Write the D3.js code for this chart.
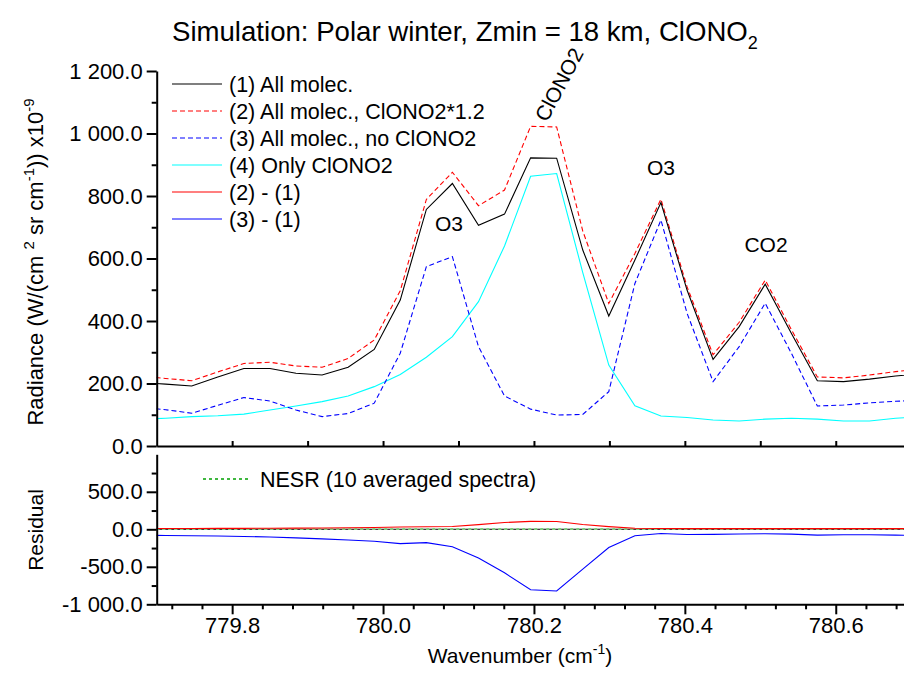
<!DOCTYPE html>
<html>
<head>
<meta charset="utf-8">
<style>
  body { margin: 0; background: #fff; }
  svg { display: block; font-family: "Liberation Sans", Arial, sans-serif; }
  .axis path, .axis line { stroke: #000; stroke-width: 2; }
  .axis text { font-size: 22px; fill: #000; font-family: "Liberation Sans", Arial, sans-serif; }
  .curve { fill: none; stroke-width: 1.1; }
</style>
</head>
<body>
<svg id="chart" width="904" height="694"></svg>
<script src="https://d3js.org/d3.v7.min.js"></script>
<script>
// wavenumber grid (cm-1), one point per spectral sample
var wavenumber = [779.6774, 779.7119, 779.7464, 779.7810, 779.8155, 779.8501, 779.8846, 779.9192, 779.9537, 779.9883,
                  780.0228, 780.0574, 780.0919, 780.1265, 780.1610, 780.1956, 780.2301, 780.2647, 780.2992, 780.3338,
                  780.3683, 780.4029, 780.4374, 780.4720, 780.5065, 780.5411, 780.5756, 780.6102, 780.6447, 780.6793,
                  780.7138];

// radiance x1e-9
var allMolec   = [203, 198, 192, 221, 248, 248, 233, 227, 252, 309, 467, 757, 840, 706, 742, 922, 921, 627, 416, 595,
                  779, 499, 277, 382, 518, 361, 209, 206, 214, 224, 232];
var clonoX12   = [224, 216, 209, 237, 264, 268, 256, 252, 280, 339, 497, 789, 876, 769, 819, 1023, 1021, 688, 456, 616,
                  790, 510, 292, 396, 531, 373, 221, 218, 227, 238, 247];
var noClono    = [125, 116, 105, 130, 155, 144, 115, 94, 104, 137, 297, 574, 606, 318, 160, 118, 99, 101, 174, 520,
                  723, 425, 206, 318, 457, 297, 128, 131, 138, 143, 147];
var onlyClono  = [85, 89, 94, 97, 102, 115, 128, 142, 160, 190, 229, 284, 350, 462, 640, 863, 872, 555, 259, 129,
                  96, 91, 83, 80, 86, 89, 86, 80, 80, 89, 93];

// residuals
var resid21    = [10, 10, 11, 12, 13, 14, 16, 18, 21, 25, 30, 34, 38, 62, 90, 105, 104, 65, 36, 14,
                  10, 9, 9, 9, 9, 9, 9, 9, 9, 9, 9];
var resid31    = [-78, -82, -86, -90, -95, -103, -114, -128, -143, -160, -191, -178, -232, -383, -580, -806, -822, -530, -243, -87,
                  -57, -70, -68, -62, -60, -64, -78, -72, -72, -78, -82];
var nesrWave   = [779.6, 780.8];
var nesrVal    = [4, 4];

// ticks
var radTicks      = [0, 200, 400, 600, 800, 1000, 1200];
var radMinor      = [100, 300, 500, 700, 900, 1100];
var residTicks    = [-1000, -500, 0, 500];
var residMinor    = [-750, -250, 250, 750];
var waveTicks     = [779.8, 780.0, 780.2, 780.4, 780.6];
var waveMinor     = [779.72, 779.76, 779.84, 779.88, 779.92, 779.96, 780.04, 780.08, 780.12, 780.16,
                     780.24, 780.28, 780.32, 780.36, 780.44, 780.48, 780.52, 780.56, 780.64, 780.68];
var waveTopTicks  = [779.8, 779.9, 780.0, 780.1, 780.2, 780.3, 780.4, 780.5, 780.6, 780.7];

var svg = d3.select("#chart");
svg.append("rect").attr("width", 904).attr("height", 694).attr("fill", "#fff");

var x = d3.scaleLinear().domain([779.7, 780.7]).range([156.7, 911.2]);
var yTop = d3.scaleLinear().domain([0, 1200]).range([446, 71]);
var yBot = d3.scaleLinear().domain([-1000, 1000]).range([604.3, 454.3]);

// "1 200.0" style, plain hyphen for negatives
var fmt = function(d) { return d3.format(",.1f")(d).replace(/,/g, " ").replace("\u2212", "-"); };

// clip regions
var defs = svg.append("defs");
defs.append("clipPath").attr("id", "clipTop").append("rect")
    .attr("x", x(779.7)).attr("y", yTop(1200)).attr("width", 760).attr("height", yTop(0) - yTop(1200));
defs.append("clipPath").attr("id", "clipBot").append("rect")
    .attr("x", x(779.7)).attr("y", yBot(1000)).attr("width", 760).attr("height", yBot(-1000) - yBot(1000));

function lineOf(yScale, vals, xs) {
  xs = xs || wavenumber;
  return d3.line().x(function(d, i) { return x(xs[i]); }).y(function(d) { return yScale(d); })(vals);
}

// upper panel curves
var topG = svg.append("g").attr("clip-path", "url(#clipTop)");
var series = [
  {vals: onlyClono, color: "#00ffff", dash: null},
  {vals: noClono, color: "#0000ff", dash: "5,3"},
  {vals: clonoX12, color: "#ff0000", dash: "5,3"},
  {vals: allMolec, color: "#000000", dash: null}
];
series.forEach(function(s) {
  topG.append("path").attr("class", "curve")
    .attr("d", lineOf(yTop, s.vals))
    .attr("stroke", s.color)
    .attr("stroke-dasharray", s.dash);
});

// lower panel curves
var botG = svg.append("g").attr("clip-path", "url(#clipBot)");
botG.append("path").attr("class", "curve").attr("d", lineOf(yBot, [0, 0], nesrWave))
  .attr("stroke", "#000").attr("stroke-dasharray", "3,3");
botG.append("path").attr("class", "curve").attr("d", lineOf(yBot, nesrVal, nesrWave))
  .attr("stroke", "#00a000").attr("stroke-width", 1.5).attr("stroke-dasharray", "3,3").attr("stroke-dashoffset", 3);
botG.append("path").attr("class", "curve").attr("d", lineOf(yBot, resid21)).attr("stroke", "#ff0000");
botG.append("path").attr("class", "curve").attr("d", lineOf(yBot, resid31)).attr("stroke", "#0000ff");

// axes
svg.append("g").attr("class", "axis").attr("transform", "translate(" + x(779.7) + ",0)")
  .call(d3.axisLeft(yTop).tickValues(radTicks).tickSize(10).tickSizeOuter(0).tickPadding(4).tickFormat(fmt));
svg.append("g").attr("class", "axis").attr("transform", "translate(" + x(779.7) + ",0)")
  .call(d3.axisLeft(yTop).tickValues(radMinor).tickSize(5).tickSizeOuter(0).tickFormat(""))
  .select(".domain").remove();

svg.append("g").attr("class", "axis").attr("transform", "translate(0," + yTop(0) + ")")
  .call(d3.axisBottom(x).tickValues(waveTopTicks).tickSize(-5).tickSizeOuter(0).tickFormat(""));

svg.append("g").attr("class", "axis").attr("transform", "translate(" + x(779.7) + ",0)")
  .call(d3.axisLeft(yBot).tickValues(residTicks).tickSize(10).tickSizeOuter(0).tickPadding(4).tickFormat(fmt));
svg.append("g").attr("class", "axis").attr("transform", "translate(" + x(779.7) + ",0)")
  .call(d3.axisLeft(yBot).tickValues(residMinor).tickSize(5).tickSizeOuter(0).tickFormat(""))
  .select(".domain").remove();

svg.append("g").attr("class", "axis").attr("transform", "translate(0," + yBot(-1000) + ")")
  .call(d3.axisBottom(x).tickValues(waveTicks).tickSize(10).tickSizeOuter(0).tickPadding(3).tickFormat(d3.format(".1f")));
svg.append("g").attr("class", "axis").attr("transform", "translate(0," + yBot(-1000) + ")")
  .call(d3.axisBottom(x).tickValues(waveMinor).tickSize(5).tickSizeOuter(0).tickFormat(""))
  .select(".domain").remove();

// title
var title = svg.append("text").attr("x", 172).attr("y", 41)
  .attr("font-size", 27.6).text("Simulation: Polar winter, Zmin = 18 km, ClONO");
title.append("tspan").attr("font-size", 18).attr("dy", 8).text("2");

// axis titles
var yl = svg.append("text").attr("transform", "translate(43,262) rotate(-90)")
  .attr("text-anchor", "middle").attr("font-size", 22);
yl.append("tspan").text("Radiance (W/(cm  ");
yl.append("tspan").attr("font-size", 15).attr("dy", -9).text("2");
yl.append("tspan").attr("dy", 9).text("  sr cm");
yl.append("tspan").attr("font-size", 15).attr("dy", -9).text("-1");
yl.append("tspan").attr("dy", 9).text(")) x10");
yl.append("tspan").attr("font-size", 15).attr("dy", -9).text("-9");

svg.append("text").attr("transform", "translate(43,530) rotate(-90)")
  .attr("text-anchor", "middle").attr("font-size", 21).text("Residual");

var xl = svg.append("text").attr("x", 520).attr("y", 663).attr("text-anchor", "middle").attr("font-size", 21);
xl.append("tspan").text("Wavenumber (cm");
xl.append("tspan").attr("font-size", 14).attr("dy", -9).text("-1");
xl.append("tspan").attr("dy", 9).text(")");

// legend (upper)
var legendNames = ["(1) All molec.", "(2) All molec., ClONO2*1.2", "(3) All molec., no ClONO2",
                   "(4) Only ClONO2", "(2) - (1)", "(3) - (1)"];
var legendStyle = [
  {color: "#000000", dash: null}, {color: "#ff0000", dash: "5,3"}, {color: "#0000ff", dash: "5,3"},
  {color: "#00ffff", dash: null}, {color: "#ff0000", dash: null}, {color: "#0000ff", dash: null}
];
var lg = svg.append("g");
legendNames.forEach(function(name, i) {
  var yy = 84 + i * 27;
  lg.append("line").attr("x1", 172).attr("x2", 222).attr("y1", yy).attr("y2", yy)
    .attr("stroke", legendStyle[i].color).attr("stroke-width", 1.1)
    .attr("stroke-dasharray", legendStyle[i].dash);
  lg.append("text").attr("x", 229).attr("y", yy + 7.5).attr("font-size", 21.5).text(name);
});

// legend (lower)
svg.append("line").attr("x1", 203).attr("x2", 249).attr("y1", 479).attr("y2", 479)
  .attr("stroke", "#00a000").attr("stroke-width", 1.5).attr("stroke-dasharray", "3,3");
svg.append("text").attr("x", 260).attr("y", 486.5).attr("font-size", 21.5).text("NESR (10 averaged spectra)");

// band labels
svg.append("text").attr("x", 449).attr("y", 231).attr("text-anchor", "middle").attr("font-size", 21).text("O3");
svg.append("text").attr("x", 661).attr("y", 175).attr("text-anchor", "middle").attr("font-size", 21).text("O3");
svg.append("text").attr("x", 766).attr("y", 252).attr("text-anchor", "middle").attr("font-size", 21).text("CO2");
svg.append("text").attr("transform", "translate(547,123) rotate(-62)").attr("font-size", 21).text("ClONO2");
</script>
</body>
</html>
